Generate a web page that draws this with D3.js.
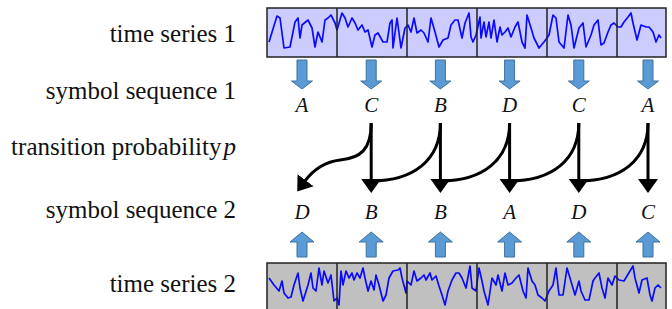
<!DOCTYPE html>
<html>
<head>
<meta charset="utf-8">
<script src="https://cdn.jsdelivr.net/npm/d3@7"></script>
<style>
body{margin:0;background:#fff;}
svg{display:block;}
svg text, svg tspan{font-family:'Liberation Serif','Times New Roman',Tinos,serif !important;}
</style>
</head>
<body>
<svg width="672" height="309"></svg>
<script>
var rowLabels = ['time series 1','symbol sequence 1','transition probability','symbol sequence 2','time series 2'];
var seq1 = ['A','C','B','D','C','A'];
var seq2 = ['D','B','B','A','D','C'];
var winLen = 70;
var serif = "'Liberation Serif'";

// [time, amplitude]
var series1 = [[2,15],[10,41],[13,39],[17,9],[23,10],[28,35],[31,39],[33,19],[35,32],[41,37],[45,29],[48,10],[51,25],[55,15],[58,37],[61,39],[64,42],[68,34],[70,27],[75,44],[78,39],[81,30],[85,39],[88,34],[91,27],[95,32],[98,25],[101,27],[105,10],[108,22],[111,24],[116,15],[120,15],[123,34],[125,37],[126,9],[130,39],[134,9],[138,29],[141,32],[144,25],[147,39],[150,24],[154,27],[157,24],[161,15],[164,39],[168,25],[172,10],[176,17],[181,19],[184,32],[188,37],[191,37],[195,19],[198,34],[202,44],[204,20],[206,15],[209,22],[213,40],[214,19],[217,35],[219,20],[222,35],[224,19],[227,37],[230,15],[233,30],[235,22],[238,25],[241,29],[244,20],[248,30],[251,35],[255,15],[258,9],[260,42],[264,29],[267,19],[272,9],[277,15],[280,19],[282,22],[286,42],[289,39],[292,15],[297,9],[301,42],[304,32],[307,9],[312,29],[316,34],[319,10],[324,22],[327,32],[331,37],[334,12],[337,14],[341,25],[344,32],[347,34],[351,30],[354,30],[357,35],[361,40],[364,44],[366,34],[370,17],[374,32],[379,30],[382,30],[386,25],[389,15],[392,22],[394,19]];
var series2 = [[2,34],[7,27],[12,21],[15,31],[17,19],[21,14],[24,15],[27,27],[31,39],[33,24],[36,11],[41,27],[44,39],[46,24],[49,21],[52,44],[55,27],[57,41],[61,29],[64,37],[67,11],[70,14],[72,7],[74,41],[76,27],[79,41],[82,34],[85,39],[87,32],[90,39],[93,34],[96,44],[98,34],[101,21],[104,31],[107,22],[109,37],[112,27],[116,11],[119,17],[122,34],[126,41],[131,42],[133,44],[135,34],[139,19],[140,31],[144,27],[147,41],[150,31],[154,34],[157,37],[159,32],[163,39],[165,32],[169,36],[172,26],[175,17],[178,7],[181,21],[185,32],[189,39],[192,39],[195,34],[199,24],[203,46],[205,24],[209,21],[212,44],[215,31],[217,21],[221,7],[225,34],[229,27],[231,37],[235,21],[238,39],[241,27],[245,29],[249,34],[252,37],[256,21],[259,14],[261,44],[265,31],[268,27],[271,17],[275,14],[278,11],[282,21],[286,27],[289,44],[292,17],[296,17],[300,44],[303,34],[308,17],[312,31],[314,21],[318,12],[322,12],[326,31],[328,34],[332,39],[335,24],[338,14],[341,34],[345,27],[348,36],[352,32],[357,31],[360,36],[363,41],[366,46],[368,34],[372,19],[375,32],[380,34],[383,17],[385,11],[388,24],[391,27],[394,24]];

var svg = d3.select('svg');
var x = d3.scaleLinear().domain([0,399]).range([267,666]);
var y1 = d3.scaleLinear().domain([0,49]).range([57,8]);
var y2 = d3.scaleLinear().domain([0,49]).range([312,263]);
var col = d3.scalePoint().domain(d3.range(seq1.length)).range([302,648]);

function drawSeries(data, y, fill){
	var g = svg.append('g');
	var top = y(49), bot = y(0);
	g.append('rect')
		.attr('x', x(0)).attr('y', top)
		.attr('width', x(399)-x(0)).attr('height', bot-top)
		.attr('fill', fill);
	g.append('path')
		.datum(data)
		.attr('d', d3.line().x(function(d){return x(d[0]);}).y(function(d){return y(d[1]);}))
		.attr('fill','none')
		.attr('stroke','#0a0aff')
		.attr('stroke-width',1.7)
		.attr('stroke-linejoin','round');
	g.selectAll('line')
		.data(d3.range(winLen, 399, winLen))
		.enter()
		.append('line')
		.attr('x1', function(d){return x(d);}).attr('x2', function(d){return x(d);})
		.attr('y1', top).attr('y2', bot)
		.attr('stroke','#222').attr('stroke-width',1.5);
	g.append('rect')
		.attr('x', x(0)).attr('y', top)
		.attr('width', x(399)-x(0)).attr('height', bot-top)
		.attr('fill','none').attr('stroke','#222').attr('stroke-width',1.5);
}
drawSeries(series1, y1, '#ccccff');
drawSeries(series2, y2, '#c0c0c0');

// row labels
var labelY = [42, 99, 155, 218, 292];
var lab = svg.selectAll('text.row')
	.data(rowLabels)
	.enter()
	.append('text')
	.attr('class','row')
	.attr('x',236)
	.attr('y',function(d,i){return labelY[i];})
	.attr('text-anchor','end')
	.attr('font-family','Times New Roman')
	.style('font-family',serif)
	.attr('font-size',25)
	.attr('fill','#111')
	.text(function(d){return d;});
lab.filter(function(d,i){return i==2;})
	.append('tspan').style('font-style','italic').attr('dx',2).text('p');

// blue block arrows
function blockArrow(cx, a, b, headLen, headHalf){
	var dir = b > a ? 1 : -1;
	var hb = b - dir*headLen;
	return [[cx-5,a],[cx+5,a],[cx+5,hb],[cx+headHalf,hb],[cx,b],[cx-headHalf,hb],[cx-5,hb]];
}
svg.selectAll('polygon.down')
	.data(seq1)
	.enter()
	.append('polygon')
	.attr('points',function(d,i){return blockArrow(col(i),60,89,8,10.5).join(' ');})
	.attr('fill','#5b9bd5').attr('stroke','#41719c').attr('stroke-width',1);
svg.selectAll('polygon.up')
	.data(seq2)
	.enter()
	.append('polygon')
	.attr('points',function(d,i){return blockArrow(col(i),257,232,10,12).join(' ');})
	.attr('fill','#5b9bd5').attr('stroke','#41719c').attr('stroke-width',1);

// symbols
function symbols(seq, yy){
	svg.append('g').selectAll('text')
		.data(seq)
		.enter()
		.append('text')
		.attr('x',function(d,i){return col(i);})
		.attr('y',yy)
		.attr('text-anchor','middle')
		.attr('font-family','Times New Roman')
		.style('font-family',serif)
		.style('font-style','italic')
		.attr('font-size',21)
		.attr('fill','#111')
		.text(function(d){return d;});
}
symbols(seq1, 112);
symbols(seq2, 219);

// transitions
svg.append('defs').append('marker')
	.attr('id','head')
	.attr('markerUnits','userSpaceOnUse')
	.attr('markerWidth',16).attr('markerHeight',22)
	.attr('viewBox','0 -11 16 22')
	.attr('refX',1).attr('refY',0)
	.attr('orient','auto')
	.append('path').attr('d','M0,-10L14,0L0,10Z').attr('fill','#000');

var top0 = 123, base = 180;
var links = [];
for(var i = 1;i < seq1.length;i++){
	links.push({from:i, to:i});
	links.push({from:i, to:i-1});
}
svg.selectAll('path.link')
	.data(links)
	.enter()
	.append('path')
	.attr('d',function(d){
		var x0 = col(d.from), x1 = col(d.to);
		if(d.from == d.to) return 'M'+x0+','+top0+'L'+x0+','+base;
		if(d.to > 0) return 'M'+x0+','+top0+'C'+x0+','+160+' '+(x0-27)+','+(base+1)+' '+x1+','+(base+1);
		return 'M'+x0+','+top0+'C'+x0+','+150+' '+(x0-11)+','+158+' '+(x0-31)+','+160
			+'C'+(x0-48)+','+162+' '+(x0-58)+','+170+' '+(x1+3)+','+(base+1);
	})
	.attr('fill','none')
	.attr('stroke','#000')
	.attr('stroke-width',3)
	.attr('marker-end',function(d){return (d.from == d.to || d.to == 0) ? 'url(#head)' : null;});
</script>
</body>
</html>
